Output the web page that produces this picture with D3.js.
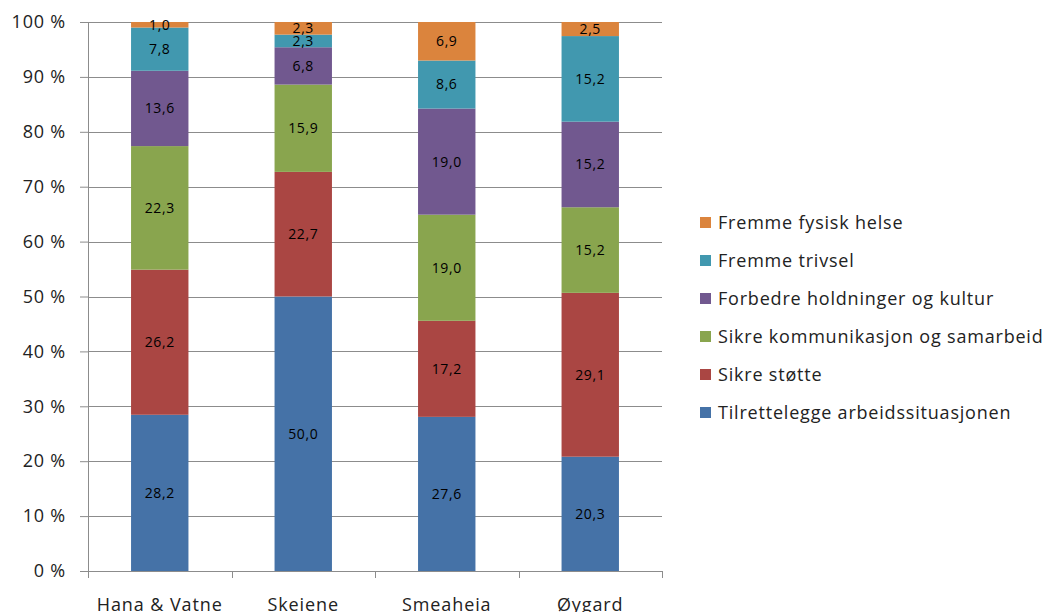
<!DOCTYPE html>
<html>
<head>
<meta charset="utf-8">
<script src="https://cdn.jsdelivr.net/npm/d3@7"></script>
<style>
  body { margin: 0; background: #fff; }
  svg text { font-family: "Open Sans", "DejaVu Sans", sans-serif; }
</style>
</head>
<body>
<div id="chart"></div>
<script>
const layout = {
    width: 1051,
    height: 612,
    marginLeft: 88,
    marginTop: 22,
    chartWidth: 574,
    chartHeight: 549
};

// data
const schools = ["Hana & Vatne", "Skeiene", "Smeaheia", "Øygard"];
const seriesNames = [
    "Tilrettelegge arbeidssituasjonen",
    "Sikre støtte",
    "Sikre kommunikasjon og samarbeid",
    "Forbedre holdninger og kultur",
    "Fremme trivsel",
    "Fremme fysisk helse"
];
const seriesColors = ["#4572A7", "#AA4643", "#89A54E", "#71588F", "#4198AF", "#DB843D"];
const tilrettelegge = [28.2, 50.0, 27.6, 20.3];
const stotte = [26.2, 22.7, 17.2, 29.1];
const kommunikasjon = [22.3, 15.9, 19.0, 15.2];
const holdninger = [13.6, 6.8, 19.0, 15.2];
const trivsel = [7.8, 2.3, 8.6, 15.2];
const fysisk = [1.0, 2.3, 6.9, 2.5];
const yTicks = [0, 0.1, 0.2, 0.3, 0.4, 0.5, 0.6, 0.7, 0.8, 0.9, 1.0];

const values = [tilrettelegge, stotte, kommunikasjon, holdninger, trivsel, fysisk];

// build table for the stack
let table = schools.map((s, i) => {
    let row = { school: s };
    seriesNames.forEach((n, j) => row[n] = values[j][i]);
    return row;
});

let stack = d3.stack()
    .keys(seriesNames)
    .offset(d3.stackOffsetExpand);
let stacked = stack(table);

let svg = d3.select("#chart").append("svg")
    .attr("width", layout.width)
    .attr("height", layout.height);

let xScale = d3.scaleBand()
    .domain(schools)
    .range([0, layout.chartWidth])
    .paddingInner(0.6)
    .paddingOuter(0.3);

let yScale = d3.scaleLinear()
    .domain([0, 1])
    .range([layout.chartHeight, 0]);

let plot = svg.append("g")
    .attr("transform", `translate(${layout.marginLeft},${layout.marginTop})`);

// gridlines
plot.append("g")
    .selectAll("line")
    .data(yTicks.slice(1))
    .join("line")
    .attr("x1", 0)
    .attr("x2", layout.chartWidth)
    .attr("y1", d => Math.round(yScale(d)) + 0.5)
    .attr("y2", d => Math.round(yScale(d)) + 0.5)
    .attr("stroke", "#8c8c8c")
    .attr("stroke-width", 1);

// bars
let groups = plot.append("g")
    .selectAll("g")
    .data(stacked)
    .join("g")
    .attr("fill", (d, i) => seriesColors[i]);

groups.selectAll("rect")
    .data(d => d)
    .join("rect")
    .attr("x", d => xScale(d.data.school))
    .attr("width", xScale.bandwidth())
    .attr("y", d => yScale(d[1]))
    .attr("height", d => yScale(d[0]) - yScale(d[1]));

// value labels
stacked.forEach((layer, j) => {
    plot.append("g")
        .selectAll("text")
        .data(layer)
        .join("text")
        .attr("x", d => xScale(d.data.school) + xScale.bandwidth() / 2)
        .attr("y", d => (yScale(d[0]) + yScale(d[1])) / 2)
        .attr("dy", "0.35em")
        .attr("text-anchor", "middle")
        .attr("font-size", 14)
        .attr("letter-spacing", 0.6)
        .attr("fill", "#000")
        .text(d => d3.format(".1f")(d.data[layer.key]).replace(".", ","));
});

// y axis
let yAxis = plot.append("g")
    .call(d3.axisLeft(yScale)
        .tickValues(yTicks)
        .tickSize(8)
        .tickPadding(14)
        .tickFormat(d => Math.round(d * 100) + " %"));
yAxis.selectAll("line, .domain").attr("stroke", "#8c8c8c");
yAxis.select(".domain").attr("d", `M0.5,${layout.chartHeight}V0`);
yAxis.selectAll("text")
    .attr("font-size", 18)
    .attr("letter-spacing", 0.8)
    .attr("fill", "#222");

// x axis
let boundaries = [0].concat(schools.map(s => xScale(s) + xScale.bandwidth() / 2 + xScale.step() / 2));
let xAxis = plot.append("g")
    .attr("transform", `translate(0,${layout.chartHeight})`);
xAxis.append("line")
    .attr("x1", 0)
    .attr("x2", layout.chartWidth)
    .attr("y1", 0.5)
    .attr("y2", 0.5)
    .attr("stroke", "#8c8c8c");
xAxis.selectAll(".tick")
    .data(boundaries)
    .join("line")
    .attr("class", "tick")
    .attr("x1", d => Math.round(d) + 0.5)
    .attr("x2", d => Math.round(d) + 0.5)
    .attr("y1", 0)
    .attr("y2", 7)
    .attr("stroke", "#8c8c8c");
xAxis.selectAll("text")
    .data(schools)
    .join("text")
    .attr("x", d => xScale(d) + xScale.bandwidth() / 2)
    .attr("y", 40)
    .attr("text-anchor", "middle")
    .attr("font-size", 18)
    .attr("letter-spacing", 0.9)
    .attr("fill", "#222")
    .text(d => d);

// legend, top entry is the last series
let legend = svg.append("g")
    .attr("transform", "translate(700,223)");
let legendItems = legend.selectAll("g")
    .data(seriesNames.slice().reverse())
    .join("g")
    .attr("transform", (d, i) => `translate(0,${i * 38})`);
legendItems.append("rect")
    .attr("x", 0)
    .attr("y", -6)
    .attr("width", 11)
    .attr("height", 11)
    .attr("fill", d => seriesColors[seriesNames.indexOf(d)]);
legendItems.append("text")
    .attr("x", 18)
    .attr("y", 0)
    .attr("dy", "0.35em")
    .attr("font-size", 18)
    .attr("letter-spacing", 0.8)
    .attr("fill", "#222")
    .text(d => d);
</script>
</body>
</html>
